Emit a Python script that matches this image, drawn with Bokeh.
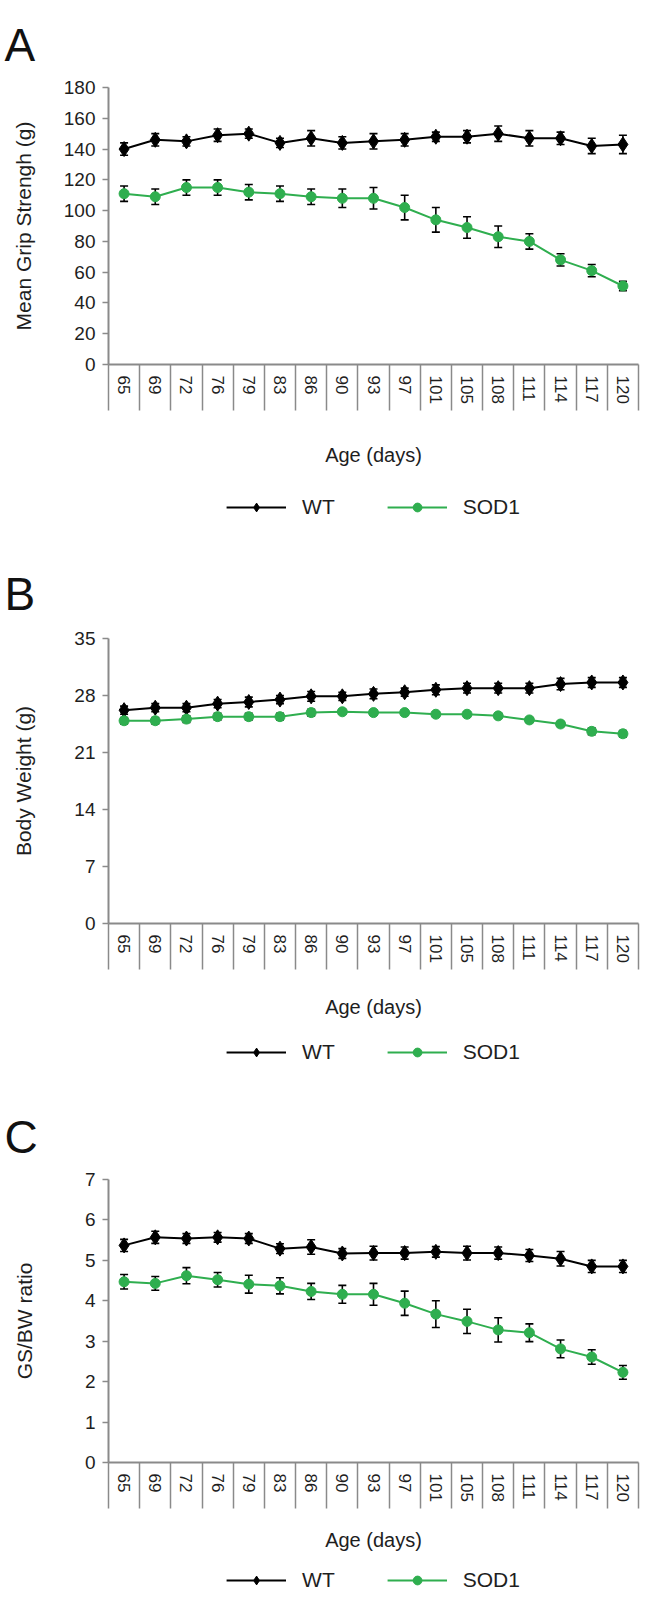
from bokeh.plotting import figure
from bokeh.models import (ColumnDataSource, Whisker, TeeHead, FixedTicker, Legend,
                          LegendItem, Range1d)
from bokeh.layouts import column
from bokeh.embed import file_html
from bokeh.resources import INLINE

ages = [65, 69, 72, 76, 79, 83, 86, 90, 93, 97, 101, 105, 108, 111, 114, 117, 120]

gs_wt = [140, 146, 145, 149, 150, 144, 147, 144, 145, 146, 148, 148, 150, 147, 147, 142, 143]
gs_wt_err = [4, 4, 3, 4, 3, 3, 5, 4, 5, 4, 3, 4, 5, 5, 4, 5, 6]
gs_sod = [111, 109, 115, 115, 112, 111, 109, 108, 108, 102, 94, 89, 83, 80, 68, 61, 51]
gs_sod_err = [5, 5, 5, 5, 5, 5, 5, 6, 7, 8, 8, 7, 7, 5, 4, 4, 3]

bw_wt = [26.2, 26.5, 26.5, 27.0, 27.2, 27.5, 27.9, 27.9, 28.2, 28.4, 28.7, 28.9, 28.9, 28.9, 29.4, 29.6, 29.6]
bw_wt_err = [0.5, 0.5, 0.5, 0.5, 0.6, 0.5, 0.6, 0.5, 0.6, 0.5, 0.6, 0.6, 0.6, 0.6, 0.7, 0.6, 0.6]
bw_sod = [24.9, 24.9, 25.1, 25.4, 25.4, 25.4, 25.9, 26.0, 25.9, 25.9, 25.7, 25.7, 25.5, 25.0, 24.5, 23.6, 23.3]
bw_sod_err = [0.4, 0.4, 0.4, 0.4, 0.4, 0.4, 0.4, 0.3, 0.3, 0.3, 0.3, 0.3, 0.3, 0.3, 0.3, 0.4, 0.4]

ratio_wt = [5.37, 5.57, 5.54, 5.57, 5.54, 5.29, 5.33, 5.17, 5.18, 5.18, 5.21, 5.18, 5.18, 5.12, 5.04, 4.85, 4.85]
ratio_wt_err = [0.15, 0.15, 0.12, 0.12, 0.12, 0.12, 0.18, 0.12, 0.17, 0.15, 0.13, 0.17, 0.15, 0.15, 0.18, 0.15, 0.15]
ratio_sod = [4.47, 4.43, 4.62, 4.52, 4.41, 4.37, 4.23, 4.16, 4.16, 3.94, 3.67, 3.49, 3.28, 3.21, 2.81, 2.61, 2.23]
ratio_sod_err = [0.18, 0.17, 0.2, 0.18, 0.22, 0.2, 0.2, 0.22, 0.27, 0.3, 0.33, 0.3, 0.3, 0.22, 0.22, 0.18, 0.17]

series_names = ["WT", "SOD1"]

FONT = "Liberation Sans"
GREEN = "#2fae4f"
AXIS = "#8a8a8a"
TEXT = "#1e1e1e"
W = 645
LEFT = 108
RIGHT = 7


def sources(wt, wt_err, sod, sod_err):
    x = list(range(len(ages)))
    src_wt = ColumnDataSource(dict(x=x, y=wt, lo=[v - e for v, e in zip(wt, wt_err)],
                                   hi=[v + e for v, e in zip(wt, wt_err)]))
    src_sod = ColumnDataSource(dict(x=x, y=sod, lo=[v - e for v, e in zip(sod, sod_err)],
                                    hi=[v + e for v, e in zip(sod, sod_err)]))
    return src_wt, src_sod


def make_panel(letter, ylabel, ymax, yticks, src_wt, src_sod,
               height, border_top, title_standoff, ylab_standoff, xlab_standoff):
    x = list(range(len(ages)))
    p = figure(width=W, height=height, output_backend="svg", toolbar_location=None,
               x_range=Range1d(-0.5, len(ages) - 0.5), y_range=Range1d(0, ymax),
               min_border_left=LEFT, min_border_right=RIGHT,
               min_border_top=border_top, min_border_bottom=102)
    p.outline_line_color = None
    p.xgrid.grid_line_color = None
    p.ygrid.grid_line_color = None

    p.title.text = letter
    p.title.text_font = FONT
    p.title.text_font_size = "46px"
    p.title.text_font_style = "normal"
    p.title.text_color = "#111111"
    p.title.offset = -(LEFT - 4)
    p.title.standoff = title_standoff

    xa = p.xaxis[0]
    xa.ticker = FixedTicker(ticks=x, minor_ticks=[i - 0.5 for i in range(len(ages) + 1)])
    xa.major_label_overrides = {i: str(a) for i, a in enumerate(ages)}
    xa.major_label_orientation = "vertical"
    xa.major_tick_out = 0
    xa.major_tick_in = 0
    xa.major_tick_line_color = None
    xa.minor_tick_out = 46
    xa.minor_tick_in = 0
    xa.minor_tick_line_color = AXIS
    xa.minor_tick_line_width = 1.5
    xa.axis_line_color = AXIS
    xa.axis_line_width = 2
    xa.major_label_standoff = -35
    xa.major_label_text_font = FONT
    xa.major_label_text_font_size = "17px"
    xa.major_label_text_color = TEXT
    xa.axis_label = "Age (days)"
    xa.axis_label_text_font = FONT
    xa.axis_label_text_font_size = "20px"
    xa.axis_label_text_font_style = "normal"
    xa.axis_label_text_color = TEXT
    xa.axis_label_standoff = xlab_standoff

    ya = p.yaxis[0]
    ya.ticker = FixedTicker(ticks=yticks)
    ya.minor_tick_line_color = None
    ya.major_tick_out = 6
    ya.major_tick_in = 0
    ya.major_tick_line_color = AXIS
    ya.major_tick_line_width = 1.5
    ya.axis_line_color = AXIS
    ya.axis_line_width = 2
    ya.major_label_text_font = FONT
    ya.major_label_text_font_size = "19px"
    ya.major_label_text_color = TEXT
    ya.major_label_standoff = 7
    ya.axis_label = ylabel
    ya.axis_label_text_font = FONT
    ya.axis_label_text_font_size = "21px"
    ya.axis_label_text_font_style = "normal"
    ya.axis_label_text_color = TEXT
    ya.axis_label_standoff = ylab_standoff

    p.line("x", "y", source=src_wt, line_color="black", line_width=2)
    p.line("x", "y", source=src_sod, line_color=GREEN, line_width=2)
    for src in (src_wt, src_sod):
        w = Whisker(source=src, base="x", upper="hi", lower="lo", dimension="height",
                    line_color="black", line_width=1.6,
                    upper_head=TeeHead(size=8, line_color="black", line_width=1.6),
                    lower_head=TeeHead(size=8, line_color="black", line_width=1.6))
        p.add_layout(w)
    p.scatter("x", "y", source=src_wt, marker="diamond", size=15,
              fill_color="black", line_color="black")
    p.scatter("x", "y", source=src_sod, marker="circle", size=10,
              fill_color=GREEN, line_color=GREEN)
    return p


def make_legend(height, src_wt, src_sod):
    p = figure(width=W, height=height, output_backend="svg", toolbar_location=None,
               x_range=Range1d(0, 1), y_range=Range1d(0, 1),
               x_axis_location=None, y_axis_location=None,
               min_border_left=81, min_border_right=0,
               min_border_top=0, min_border_bottom=0)
    p.grid.visible = False
    p.outline_line_color = None
    l1 = p.line("x", "y", source=src_wt, line_color="black", line_width=2, visible=False)
    m1 = p.scatter("x", "y", source=src_wt, marker="diamond", size=17,
                   fill_color="black", line_color="black", visible=False)
    l2 = p.line("x", "y", source=src_sod, line_color=GREEN, line_width=2, visible=False)
    m2 = p.scatter("x", "y", source=src_sod, marker="circle", size=14,
                   fill_color=GREEN, line_color=GREEN, visible=False)
    legend = Legend(items=[LegendItem(label=series_names[0], renderers=[l1, m1]),
                           LegendItem(label=series_names[1], renderers=[l2, m2])],
                    orientation="horizontal", location="center",
                    border_line_color=None, background_fill_alpha=0,
                    inactive_fill_alpha=0,
                    label_text_font=FONT, label_text_font_size="21px",
                    label_text_color=TEXT, label_height=22,
                    glyph_width=60, glyph_height=22, spacing=52, padding=0,
                    margin=0, label_standoff=16)
    p.add_layout(legend)
    return p


sA = sources(gs_wt, gs_wt_err, gs_sod, gs_sod_err)
sB = sources(bw_wt, bw_wt_err, bw_sod, bw_sod_err)
sC = sources(ratio_wt, ratio_wt_err, ratio_sod, ratio_sod_err)

pA = make_panel("A", "Mean Grip Strengh (g)", 180, list(range(0, 181, 20)), *sA,
                468, 69, 33, 26, 37)
lA = make_legend(78, *sA)
pB = make_panel("B", "Body Weight (g)", 35, [0, 7, 14, 21, 28, 35], *sB,
                479, 88, 38, 36, 30)
lB = make_legend(54, *sB)
pC = make_panel("C", "GS/BW ratio", 7, list(range(0, 8)), *sC,
                485, 100, 33, 46, 24)
lC = make_legend(32, *sC)

layout = column(pA, lA, pB, lB, pC, lC, spacing=0)
open("out.html", "w").write(file_html(layout, INLINE))
